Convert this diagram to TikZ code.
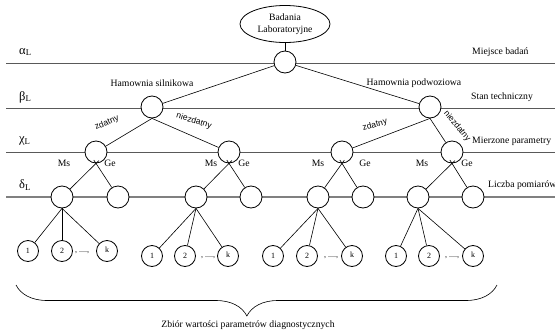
\documentclass[tikz,border=0pt]{standalone}
\usepackage{fontspec}
\setmainfont{Liberation Serif}
\newfontfamily\branchfont{Liberation Sans}
\usetikzlibrary{shapes.geometric, decorations.pathreplacing, calc}

\begin{document}
\begin{tikzpicture}[x=1pt, y=-1pt,
    level/.style={black!65, line width=0.8pt},
    dlevel/.style={black!50, line width=1.2pt},
    knot/.style={circle, draw, fill=white, line width=0.8pt, minimum size=22pt, inner sep=0pt},
    leaf/.style={circle, draw, fill=white, line width=0.8pt, minimum size=21pt, inner sep=0pt, font=\fontsize{8}{9}\selectfont},
    edge/.style={black, line width=0.6pt},
    txt/.style={font=\fontsize{9.7}{12}\selectfont, inner sep=0pt},
    greek/.style={font=\fontsize{12.5}{13}\selectfont, inner sep=0pt, anchor=west},
    branch/.style={font=\branchfont\fontsize{8.5}{9}\selectfont, inner sep=0pt}]
    \useasboundingbox (0,0) rectangle (555,335);

    % Levels
    \coordinate (aL) at (6,63);   \coordinate (aR) at (555,63);
    \coordinate (bL) at (6,108);  \coordinate (bR) at (555,108);
    \coordinate (cL) at (6,152);  \coordinate (cR) at (555,152);
    \coordinate (dL) at (6,197);  \coordinate (dR) at (555,197);
    \draw[level] (aL) -- (aR);
    \draw[level] (bL) -- (bR);
    \draw[level] (cL) -- (cR);
    \draw[dlevel] (dL) -- (dR);
    \node[greek] (alpha) at (19,52) {α\textsubscript{L}};
    \node[greek] (beta) at (19,97) {β\textsubscript{L}};
    \node[greek] (chi) at (19,141) {χ\textsubscript{L}};
    \node[greek] (delta) at (19,185) {δ\textsubscript{L}};
    \node[txt, anchor=west] (miejsce) at (472,52) {Miejsce badań};
    \node[txt, anchor=west] (stan) at (471,97) {Stan techniczny};
    \node[txt, anchor=west] (mierzone) at (472,141) {Mierzone parametry};
    \node[txt, anchor=west] (liczba) at (488,185) {Liczba pomiarów};

    % Root
    \node[draw, ellipse, line width=0.8pt, minimum width=90pt, minimum height=37pt, txt, align=center] (lab) at (285,24) {Badania\\Laboratoryjne};
    \node[knot] (c0) at (285,62) {};
    \node[txt] (hs) at (152,83) {Hamownia silnikowa};
    \node[txt] (hp) at (414,83) {Hamownia podwoziowa};

    % Technical state
    \node[knot] (s1) at (152,107) {};
    \node[knot] (s2) at (430,107) {};

    % Measured parameters
    \node[knot] (p1) at (96,152) {};
    \node[knot] (p2) at (229,152) {};
    \node[knot] (p3) at (342,152) {};
    \node[knot] (p4) at (452,152) {};
    \node[branch, rotate=22] (z1) at (107,123) {zdatny};
    \node[branch, rotate=-17] (n1) at (194,121) {niezdatny};
    \node[branch, rotate=15] (z2) at (375,125) {zdatny};
    \node[branch, rotate=-50] (n2) at (457,126) {niezdatny};
    \node[txt] (ms1) at (64,163) {Ms};  \node[txt] (ge1) at (110,163) {Ge};
    \node[txt] (ms2) at (211,163) {Ms}; \node[txt] (ge2) at (244,163) {Ge};
    \node[txt] (ms3) at (318,163) {Ms}; \node[txt] (ge3) at (365,163) {Ge};
    \node[txt] (ms4) at (422,163) {Ms}; \node[txt] (ge4) at (467,163) {Ge};

    % Number of measurements
    \node[knot] (d1a) at (62,197) {};  \node[knot] (d1b) at (118,197) {};
    \node[knot] (d2a) at (196,197) {}; \node[knot] (d2b) at (251,197) {};
    \node[knot] (d3a) at (318,197) {}; \node[knot] (d3b) at (363,197) {};
    \node[knot] (d4a) at (418,197) {}; \node[knot] (d4b) at (473,197) {};

    % Values
    \node[leaf] (l11) at (28,251) {1};  \node[leaf] (l12) at (62,251) {2};  \node[leaf] (l1k) at (107,251) {\raisebox{2pt}{k}};
    \node[leaf] (l21) at (152,256) {1}; \node[leaf] (l22) at (185,256) {2}; \node[leaf] (l2k) at (228,256) {\raisebox{2pt}{k}};
    \node[leaf] (l31) at (273,256) {1}; \node[leaf] (l32) at (307,256) {2}; \node[leaf] (l3k) at (352,256) {\raisebox{2pt}{k}};
    \node[leaf] (l41) at (396,256) {1}; \node[leaf] (l42) at (429,256) {2}; \node[leaf] (l4k) at (473,256) {\raisebox{2pt}{k}};
    \node[txt, font=\fontsize{8}{9}\selectfont] (dots1) at (82,253) {, ....,};
    \node[txt, font=\fontsize{8}{9}\selectfont] (dots2) at (208,258) {, ....,};
    \node[txt, font=\fontsize{8}{9}\selectfont] (dots3) at (331,258) {, ....,};
    \node[txt, font=\fontsize{8}{9}\selectfont] (dots4) at (452,258) {, ....,};

    % Connectors
    \draw[edge] (lab) -- (c0);
    \draw[edge] (c0) -- (s1);
    \draw[edge] (c0) -- (s2);
    \draw[edge] (s1.south) -- (p1);
    \draw[edge] (s1.south) -- (p2);
    \draw[edge] (s2.south) -- (p3);
    \draw[edge] (s2.south) -- (p4);
    \draw[edge] (d1a) -- ($(p1.south)!-4pt!(d1a)$);
    \draw[edge] (d1b) -- ($(p1.south)!-4pt!(d1b)$);
    \draw[edge] (d2a) -- ($(p2.south)!-4pt!(d2a)$);
    \draw[edge] (d2b) -- ($(p2.south)!-4pt!(d2b)$);
    \draw[edge] (d3a) -- ($(p3.south)!-4pt!(d3a)$);
    \draw[edge] (d3b) -- ($(p3.south)!-4pt!(d3b)$);
    \draw[edge] (d4a) -- ($(p4.south)!-4pt!(d4a)$);
    \draw[edge] (d4b) -- ($(p4.south)!-4pt!(d4b)$);
    \draw[edge] (d1a.south) -- (l11);
    \draw[edge] (d1a.south) -- (l12);
    \draw[edge] (d1a.south) -- (l1k);
    \draw[edge] (d2a.south) -- (l21);
    \draw[edge] (d2a.south) -- (l22);
    \draw[edge] (d2a.south) -- (l2k);
    \draw[edge] (d3a.south) -- (l31);
    \draw[edge] (d3a.south) -- (l32);
    \draw[edge] (d3a.south) -- (l3k);
    \draw[edge] (d4a.south) -- (l41);
    \draw[edge] (d4a.south) -- (l42);
    \draw[edge] (d4a.south) -- (l4k);

    % Set of values
    \coordinate (braceL) at (16,285);
    \coordinate (braceR) at (497,285);
    \draw[edge, decorate, decoration={brace, amplitude=31pt, aspect=0.52}] (braceR) -- (braceL);
    \node[txt] (zbior) at (248,325) {Zbiór wartości parametrów diagnostycznych};
\end{tikzpicture}
\end{document}
